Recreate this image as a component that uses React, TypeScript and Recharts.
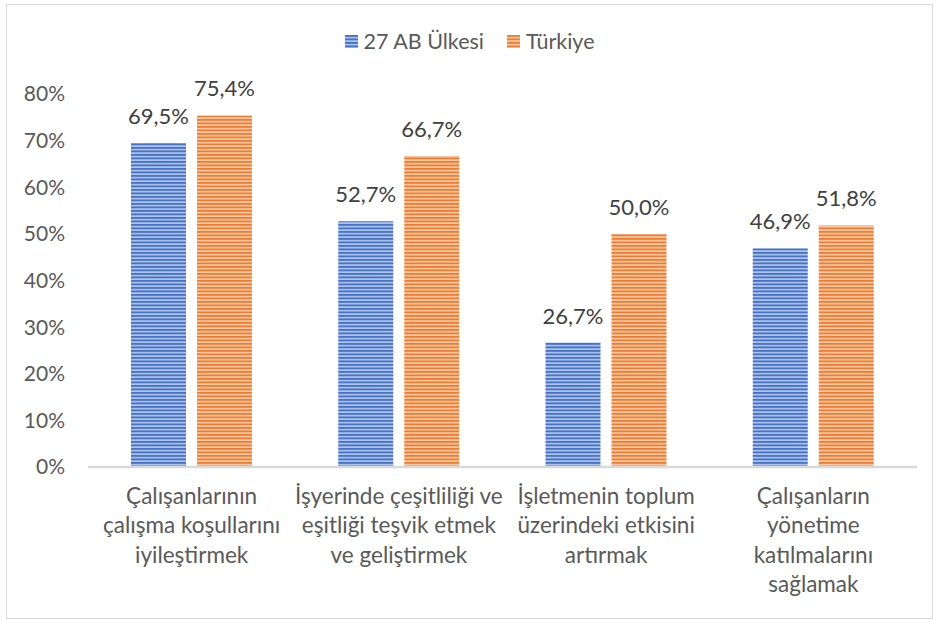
import { BarChart, Bar, XAxis, YAxis, Legend, LabelList } from 'recharts';

const categories = [
  'Çalışanlarının\nçalışma koşullarını\niyileştirmek',
  'İşyerinde çeşitliliği ve\neşitliği teşvik etmek\nve geliştirmek',
  'İşletmenin toplum\nüzerindeki etkisini\nartırmak',
  'Çalışanların\nyönetime\nkatılmalarını\nsağlamak',
];
const ab27 = [69.5, 52.7, 26.7, 46.9];
const turkiye = [75.4, 66.7, 50.0, 51.8];
const yTicks = [0, 10, 20, 30, 40, 50, 60, 70, 80];

const data = categories.map((name, i) => ({ name, ab27: ab27[i], turkiye: turkiye[i] }));

const FONT = 'Lato, "Noto Sans", sans-serif';
const TEXT = '#595959';

const fmt = (v: number) => `${v.toFixed(1).replace('.', ',')}%`;

const CategoryTick = ({ x, y, payload }: any) => {
  const lines = String(payload.value).split('\n');
  return (
    <text x={x} y={y + 29} textAnchor="middle" fill={TEXT} fontSize={22.5} fontFamily={FONT}>
      {lines.map((l, i) => (
        <tspan key={i} x={x} dy={i === 0 ? 0 : 29.3}>{l}</tspan>
      ))}
    </text>
  );
};

const LegendContent = () => (
  <div style={{ display: 'flex', justifyContent: 'center', gap: 23, fontFamily: FONT, fontSize: 21.5, color: TEXT, height: 24, alignItems: 'center' }}>
    <div style={{ display: 'flex', alignItems: 'center', gap: 6 }}>
      <svg width={13} height={13}><rect width={13} height={13} fill="url(#stripeBlue)" /></svg>
      <span>27 AB Ülkesi</span>
    </div>
    <div style={{ display: 'flex', alignItems: 'center', gap: 6 }}>
      <svg width={13} height={13}><rect width={13} height={13} fill="url(#stripeOrange)" /></svg>
      <span>Türkiye</span>
    </div>
  </div>
);

export default function App() {
  return (
    <div style={{ position: 'absolute', left: 0, top: 0, width: 939, height: 621, background: '#fff' }}>
      <svg width={0} height={0} style={{ position: 'absolute' }}>
        <defs>
          <pattern id="stripeBlue" patternUnits="userSpaceOnUse" width={8} height={3.5}>
            <rect width={8} height={3.5} fill="#aec2ea" />
            <rect width={8} height={1.8} fill="#4472C4" />
          </pattern>
          <pattern id="stripeOrange" patternUnits="userSpaceOnUse" width={8} height={3.5}>
            <rect width={8} height={3.5} fill="#f9c8a5" />
            <rect width={8} height={1.8} fill="#ED7D31" />
          </pattern>
        </defs>
      </svg>
      <div style={{ position: 'absolute', left: 6, top: 4, width: 925, height: 613, border: '1.5px solid #d9d9d9' }} />
      <div style={{ position: 'absolute', left: 0, top: 0 }}>
        <BarChart
          width={939}
          height={621}
          data={data}
          margin={{ top: 70, right: 22, bottom: 0, left: 28 }}
          barSize={55}
          barGap={11}
        >
          <Legend
            verticalAlign="top"
            height={24}
            content={<LegendContent />}
            wrapperStyle={{ top: 29, left: 0, width: 939 }}
          />
          <XAxis
            dataKey="name"
            height={154}
            tick={<CategoryTick />}
            tickLine={false}
            axisLine={{ stroke: '#d9d9d9', strokeWidth: 2.5 }}
            interval={0}
          />
          <YAxis
            width={60}
            domain={[0, 80]}
            ticks={yTicks}
            tickFormatter={(v: number) => `${v}%`}
            axisLine={false}
            tickLine={false}
            tick={{ fill: TEXT, fontSize: 21, fontFamily: FONT }}
            tickMargin={17}
          />
          <Bar dataKey="ab27" fill="url(#stripeBlue)" isAnimationActive={false}>
            <LabelList dataKey="ab27" position="top" offset={19} formatter={fmt} fill="#404040" fontSize={22} fontFamily={FONT} />
          </Bar>
          <Bar dataKey="turkiye" fill="url(#stripeOrange)" isAnimationActive={false}>
            <LabelList dataKey="turkiye" position="top" offset={19} formatter={fmt} fill="#404040" fontSize={22} fontFamily={FONT} />
          </Bar>
        </BarChart>
      </div>
    </div>
  );
}
